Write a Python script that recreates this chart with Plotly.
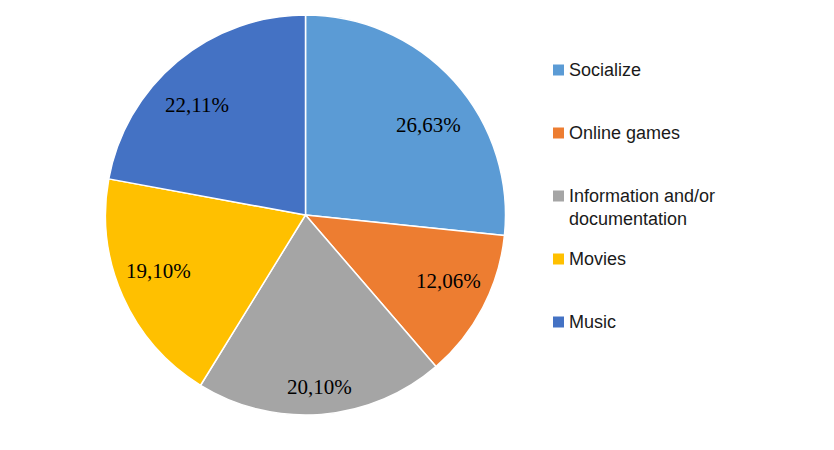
import math
import plotly.graph_objects as go

categories = ["Socialize", "Online games", "Information and/or<br>documentation", "Movies", "Music"]
values = [26.63, 12.06, 20.10, 19.10, 22.11]
colors = ["#5B9BD5", "#ED7D31", "#A5A5A5", "#FFC000", "#4472C4"]
# per-label nudge (px) from the mid-angle point, mimicking Excel's best-fit placement
label_nudge = [(7, 15), (5, -6), (2, 16), (-4, -7), (-9, 10)]

W, H = 834, 450
cx, cy, R = 305.5, 215, 200

fig = go.Figure(go.Pie(
    labels=categories, values=values, sort=False, direction="clockwise", rotation=0,
    marker=dict(colors=colors, line=dict(color="white", width=1.5)),
    textinfo="none", hoverinfo="label+percent", showlegend=False,
    domain=dict(x=[(cx - R) / W, (cx + R) / W], y=[1 - (cy + R) / H, 1 - (cy - R) / H]),
))

annotations = []
shapes = []
total = sum(values)
cum = 0
for v, (nx, ny) in zip(values, label_nudge):
    mid = (cum + v / 2) / total * 2 * math.pi
    cum += v
    rr = 0.78 * R
    px = cx + rr * math.sin(mid) + nx
    py = cy - rr * math.cos(mid) + ny
    annotations.append(dict(
        x=px / W, y=1 - py / H, xref="paper", yref="paper", showarrow=False,
        xanchor="center", yanchor="middle",
        text=f"{v:.2f}".replace(".", ",") + "%",
        font=dict(family="Liberation Serif", size=21, color="black"),
    ))

# custom legend
ly0, lstep = 70, 63
for i, (lab, col) in enumerate(zip(categories, colors)):
    y = ly0 + i * lstep
    shapes.append(dict(type="rect", xref="paper", yref="paper",
                       x0=553 / W, x1=564 / W, y0=1 - (y + 5.5) / H, y1=1 - (y - 5.5) / H,
                       fillcolor=col, line=dict(width=0)))
    annotations.append(dict(
        x=567 / W, y=1 - (y - 12.5) / H, xref="paper", yref="paper", showarrow=False,
        xanchor="left", yanchor="top", align="left", text=lab,
        font=dict(family="Liberation Sans", size=18, color="#1a1a1a"),
    ))

fig.update_layout(
    width=W, height=H, margin=dict(l=0, r=0, t=0, b=0),
    paper_bgcolor="white", plot_bgcolor="white",
    annotations=annotations, shapes=shapes,
)
fig.write_html("out.html")
